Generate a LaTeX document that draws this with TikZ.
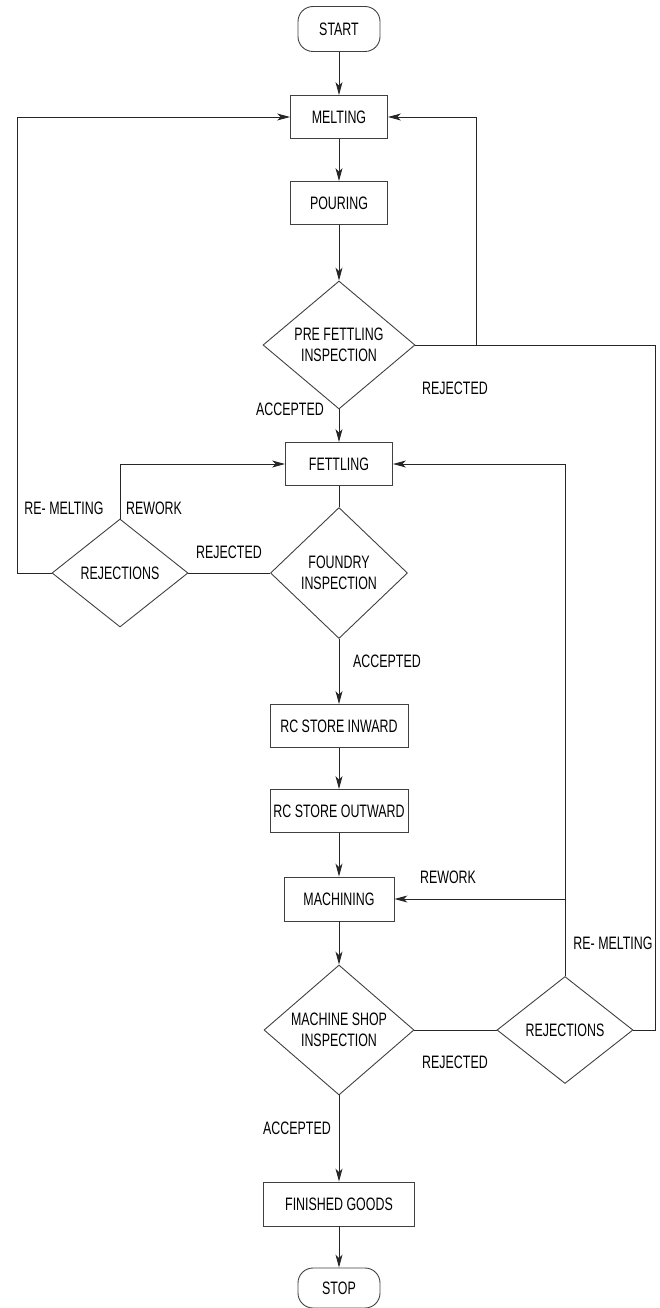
\documentclass[tikz,border=0pt]{standalone}
\usepackage{fontspec}
\setmainfont{Liberation Sans}[FakeStretch=0.69]
\usetikzlibrary{shapes.geometric,arrows.meta}
\begin{document}
\begin{tikzpicture}[x=1pt,y=-1pt,
  font=\fontsize{18}{21}\selectfont,
  every node/.style={inner sep=0pt},
  line/.style={draw=black!85,line width=0.9pt},
  arr/.style={line,-{Stealth[length=13pt,width=7pt,inset=3.5pt]}},
  procbox/.style={draw=black!75,line width=0.9pt,rectangle,minimum height=43pt},
  term/.style={draw=black!75,line width=0.9pt,rectangle,rounded corners=15pt,minimum width=82pt},
  dec/.style={draw=black!75,line width=0.9pt,diamond,align=center,inner sep=0pt},
  lbl/.style={inner sep=0pt}]
\useasboundingbox (0,0) rectangle (660,1308);
% nodes
\node[term,minimum height=45pt] (start) at (339,29) {START};
\node[procbox,minimum width=97pt] (melt) at (339,117) {MELTING};
\node[procbox,minimum width=97pt] (pour) at (339,203) {POURING};
\node[dec,minimum width=152pt,minimum height=128pt] (pre) at (339,345) {PRE FETTLING\\INSPECTION};
\node[procbox,minimum width=107pt] (fett) at (339,464) {FETTLING};
\node[dec,minimum width=137pt,minimum height=131pt] (found) at (339,573) {FOUNDRY\\INSPECTION};
\node[dec,minimum width=136pt,minimum height=108pt] (rejl) at (120,573) {REJECTIONS};
\node[procbox,minimum width=138pt] (rcin) at (339,726) {RC STORE INWARD};
\node[procbox,minimum width=138pt] (rcout) at (339,811) {RC STORE OUTWARD};
\node[procbox,minimum width=110pt,minimum height=44pt] (mach) at (339,899) {MACHINING};
\node[dec,minimum width=150pt,minimum height=130pt] (mshop) at (339,1030) {MACHINE SHOP\\INSPECTION};
\node[dec,minimum width=136pt,minimum height=107pt] (rejr) at (565,1030) {REJECTIONS};
\node[procbox,minimum width=151pt,minimum height=44pt] (fin) at (339,1204) {FINISHED GOODS};
\node[term,minimum height=40pt] (stop) at (339,1288) {STOP};
% coordinates
\coordinate (prej) at (476,345);
\coordinate (preMelt) at (476,117);
\coordinate (farR) at (655,345);
\coordinate (farRb) at (655,1030);
\coordinate (rwR) at (565,464);
\coordinate (rwRm) at (565,899);
\coordinate (rwL) at (120,464);
\coordinate (farLb) at (17,573);
\coordinate (farLt) at (17,117);
% main flow
\draw[arr] (start) -- (melt);
\draw[arr] (melt) -- (pour);
\draw[arr] (pour) -- (pre);
\draw[arr] (pre) -- (fett);
\draw[line] (fett) -- (found);
\draw[arr] (found) -- (rcin);
\draw[arr] (rcin) -- (rcout);
\draw[arr] (rcout) -- (mach);
\draw[arr] (mach) -- (mshop);
\draw[arr] (mshop) -- (fin);
\draw[arr] (fin) -- (stop);
% pre fettling rejected
\draw[line] (pre.east) -- (farR) -- (farRb) -- (rejr.east);
\draw[arr] (prej) -- (preMelt) -- (melt.east);
% foundry rejections
\draw[line] (found.west) -- (rejl.east);
\draw[arr] (rejl.north) -- (rwL) -- (fett.west);
\draw[arr] (rejl.west) -- (farLb) -- (farLt) -- (melt.west);
% machine shop rejections
\draw[line] (mshop.east) -- (rejr.west);
\draw[arr] (rejr.north) -- (rwR) -- (fett.east);
\draw[arr] (rwRm) -- (mach.east);
% labels
\node[lbl] (l1) at (290,409) {ACCEPTED};
\node[lbl] (l2) at (455,388) {REJECTED};
\node[lbl] (l3) at (64,508) {RE- MELTING};
\node[lbl] (l4) at (154,508) {REWORK};
\node[lbl] (l5) at (229,552) {REJECTED};
\node[lbl] (l6) at (387,661) {ACCEPTED};
\node[lbl] (l7) at (448,877) {REWORK};
\node[lbl] (l8) at (613,943) {RE- MELTING};
\node[lbl] (l9) at (455,1062) {REJECTED};
\node[lbl] (l10) at (297,1128) {ACCEPTED};
\end{tikzpicture}
\end{document}
